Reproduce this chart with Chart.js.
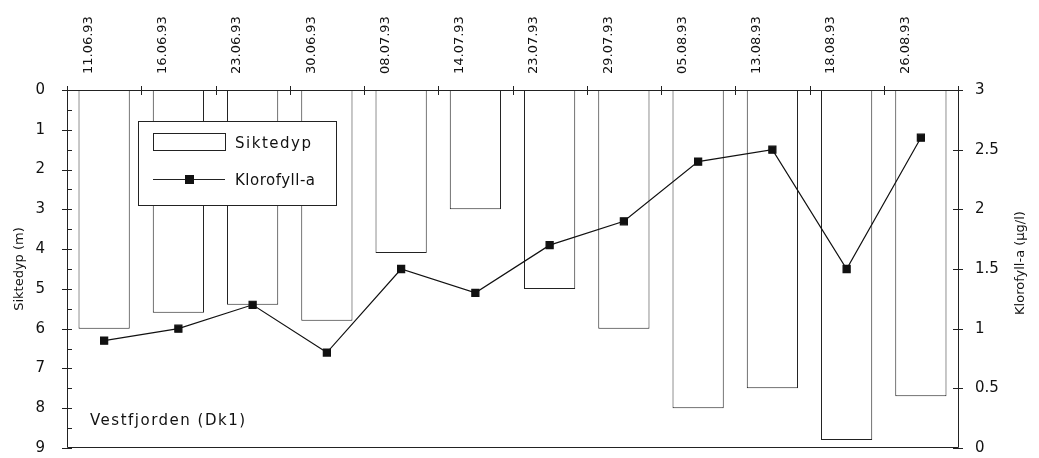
<!DOCTYPE html>
<html>
<head>
<meta charset="utf-8">
<script src="https://cdn.jsdelivr.net/npm/chart.js@4/dist/chart.umd.min.js"></script>
<style>
	html, body { margin: 0; padding: 0; background: #fff; }
	#wrap { width: 1039px; height: 458px; }
</style>
</head>
<body>
<div id="wrap"><canvas id="chart" width="1039" height="458"></canvas></div>
<script>
const dates = ["11.06.93", "16.06.93", "23.06.93", "30.06.93", "08.07.93", "14.07.93",
	"23.07.93", "29.07.93", "05.08.93", "13.08.93", "18.08.93", "26.08.93"];
const siktedyp = [6.0, 5.6, 5.4, 5.8, 4.1, 3.0, 5.0, 6.0, 8.0, 7.5, 8.8, 7.7];
const klorofyll = [0.9, 1.0, 1.2, 0.8, 1.5, 1.3, 1.7, 1.9, 2.4, 2.5, 1.5, 2.6];
const depthTicks = [0, 1, 2, 3, 4, 5, 6, 7, 8, 9];
const chlTicks = [0, 0.5, 1, 1.5, 2, 2.5, 3];
const stationName = "Vestfjorden (Dk1)";
const chlTitle = "Klorofyll-a (µg/l)";

const FONT = "'DejaVu Sans', sans-serif";

// tick marks and the frame, drawn from the scales
const axisMarks = {
	id: "axisMarks",
	afterDatasetsDraw(chart) {
		const { ctx, chartArea: a } = chart;
		const x = chart.scales.x, yL = chart.scales.yDepth, yR = chart.scales.yChl;
		ctx.save();
		ctx.strokeStyle = "#222";
		ctx.lineWidth = 1;
		ctx.beginPath();
		ctx.rect(a.left + 0.5, a.top + 0.5, a.right - a.left, a.bottom - a.top - 1);
		for (let i = 0; i <= dates.length; i++) {
			const px = Math.round(x.getPixelForValue(i - 0.5)) + 0.5;
			ctx.moveTo(px, a.top - 4);
			ctx.lineTo(px, a.top + 5);
		}
		for (let v = 0; v <= 9; v += 0.5) {
			const py = Math.round(yL.getPixelForValue(v)) + 0.5;
			if (v % 1 === 0) {
				ctx.moveTo(a.left - 5, py);
				ctx.lineTo(a.left + 5, py);
			} else {
				ctx.moveTo(a.left, py);
				ctx.lineTo(a.left + 5, py);
			}
		}
		chlTicks.forEach((v) => {
			const py = Math.round(yR.getPixelForValue(v)) + 0.5;
			ctx.moveTo(a.right - 5, py);
			ctx.lineTo(a.right + 5, py);
		});
		ctx.stroke();

		// right axis title, reading upwards
		ctx.fillStyle = "#111";
		ctx.font = "13px " + FONT;
		ctx.textAlign = "center";
		ctx.textBaseline = "middle";
		ctx.translate(1021, (a.top + a.bottom) / 2 - 6);
		ctx.rotate(-Math.PI / 2);
		ctx.fillText(chlTitle, 0, 0);
		ctx.restore();
	},
};

const legendBox = {
	id: "legendBox",
	afterDraw(chart) {
		const { ctx } = chart;
		const ds = chart.data.datasets;
		const bx = 138, by = 121, bw = 198, bh = 84;
		ctx.save();
		ctx.fillStyle = "#fff";
		ctx.fillRect(bx, by, bw, bh);
		ctx.strokeStyle = "#222";
		ctx.lineWidth = 1;
		ctx.strokeRect(bx + 0.5, by + 0.5, bw, bh);
		// bar symbol
		ctx.strokeRect(153.5, 133.5, 72, 17);
		// line symbol
		ctx.beginPath();
		ctx.moveTo(153, 179.5);
		ctx.lineTo(225, 179.5);
		ctx.stroke();
		ctx.fillStyle = "#111";
		ctx.fillRect(185, 175, 9, 9);
		ctx.font = "15px " + FONT;
		ctx.textBaseline = "middle";
		ctx.letterSpacing = "1.5px";
		ctx.fillText(ds[1].label, 235, 144);
		ctx.letterSpacing = "0.5px";
		ctx.fillText(ds[0].label, 235, 181);
		ctx.letterSpacing = "1.5px";
		ctx.fillText(stationName, 90, 421);
		ctx.restore();
	},
};

const noPad = (s) => { s.paddingTop = 0; s.paddingBottom = 0; };

new Chart(document.getElementById("chart"), {
	data: {
		labels: dates,
		datasets: [
			{
				type: "line",
				label: "Klorofyll-a",
				data: klorofyll,
				yAxisID: "yChl",
				borderColor: "#111",
				borderWidth: 1.2,
				pointStyle: "rect",
				pointRadius: 5,
				pointBackgroundColor: "#111",
				pointBorderColor: "#111",
				tension: 0,
				order: 0,
			},
			{
				type: "bar",
				label: "Siktedyp",
				data: siktedyp,
				yAxisID: "yDepth",
				backgroundColor: "#fff",
				borderColor: "#222",
				borderWidth: 1,
				barPercentage: 0.69,
				categoryPercentage: 1,
				order: 1,
			},
		],
	},
	options: {
		responsive: false,
		animation: false,
		layout: { padding: { top: 0, bottom: 10, left: 0, right: 0 } },
		plugins: {
			legend: { display: false },
			tooltip: { enabled: false },
			title: { display: false },
		},
		scales: {
			x: {
				position: "top",
				offset: true,
				grid: { display: false, drawTicks: false },
				border: { display: false },
				ticks: {
					minRotation: 90,
					maxRotation: 90,
					padding: 16,
					color: "#111",
					font: { family: FONT, size: 13 },
				},
				afterFit: (s) => { s.height = 90; s.paddingLeft = 0; s.paddingRight = 0; },
			},
			yDepth: {
				position: "left",
				reverse: true,
				min: 0,
				max: 9,
				grid: { display: false, drawTicks: false },
				border: { display: false },
				afterBuildTicks: (s) => { s.ticks = depthTicks.map((v) => ({ value: v })); },
				ticks: {
					padding: 22,
					color: "#111",
					font: { family: FONT, size: 15 },
				},
				title: {
					display: true,
					text: "Siktedyp (m)",
					color: "#111",
					font: { family: FONT, size: 13 },
					padding: { top: 12, bottom: 0 },
				},
				afterFit: (s) => { s.width = 67; noPad(s); },
			},
			yChl: {
				position: "right",
				min: 0,
				max: 3,
				grid: { display: false, drawTicks: false },
				border: { display: false },
				afterBuildTicks: (s) => { s.ticks = chlTicks.map((v) => ({ value: v })); },
				ticks: {
					padding: 17,
					color: "#111",
					font: { family: FONT, size: 15 },
					callback: (v) => String(v),
				},
				afterFit: (s) => { s.width = 81; noPad(s); },
			},
		},
	},
	plugins: [axisMarks, legendBox],
});
</script>
</body>
</html>
